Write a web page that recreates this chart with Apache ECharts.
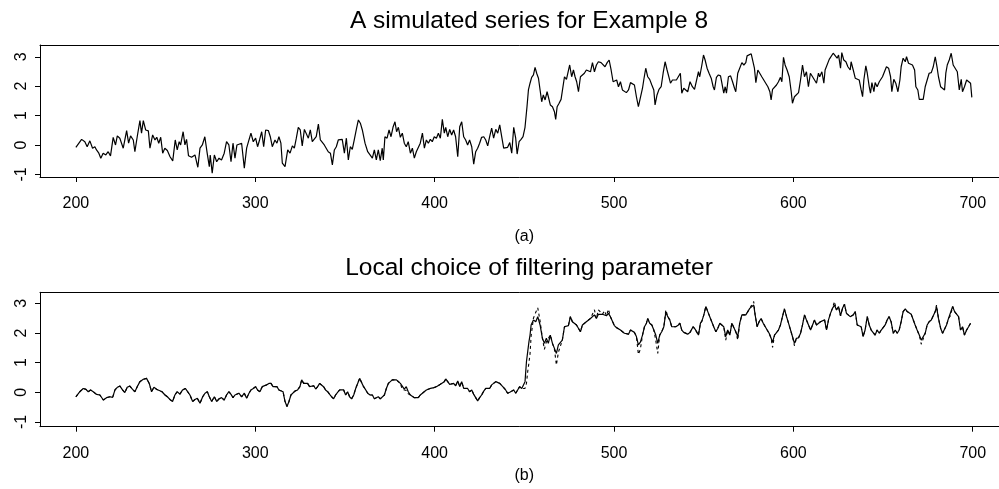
<!DOCTYPE html>
<html>
<head>
<meta charset="utf-8">
<script src="https://cdn.jsdelivr.net/npm/echarts@6/dist/echarts.min.js"></script>
<style>
  html, body { margin: 0; padding: 0; background: #fff; overflow: hidden; }
  #main { width: 999px; height: 489px; }
</style>
</head>
<body>
<div id="main"></div>
<script>
// panel (a): simulated series
const topT = [
  200.0, 203.2, 205.0, 206.3, 207.8, 209.3, 210.6, 211.5, 212.8, 213.9, 215.2, 216.7, 218.0, 219.3, 220.8, 222.1, 223.1, 224.5, 226.4, 228.3,
  229.4, 230.5, 232.0, 232.9, 234.2, 235.7, 236.6, 237.6, 238.9, 240.4, 241.3, 242.8, 244.1, 245.1, 246.2, 247.3, 248.4, 249.6, 251.0, 252.5,
  254.0, 255.4, 256.5, 257.6, 258.4, 259.8, 260.8, 261.7, 262.8, 264.5, 266.4, 268.0, 269.2, 270.5, 271.9, 273.2, 274.4,
  274.9, 276.0, 277.2, 278.5, 279.8, 281.2, 282.7, 284.0, 285.3, 286.5, 287.6, 288.7, 289.8, 290.9, 292.4, 293.9, 295.2, 296.5, 297.6, 298.9,
  300.2, 301.3, 302.4, 303.6, 304.7, 305.8, 307.3, 308.4, 309.5, 311.0, 312.1, 313.2, 314.3, 315.1, 316.6, 318.1, 319.4, 320.7, 321.8, 322.9,
  324.0, 325.1, 326.2, 327.4, 328.5, 329.6, 330.7, 331.8, 332.9, 334.0, 335.2, 336.3, 337.4, 338.5, 339.6, 340.7, 341.9, 343.0, 344.1, 345.2,
  346.3, 347.4, 348.5, 349.7, 350.8, 351.9, 353.0, 354.1, 355.2, 356.5, 357.5, 358.6, 359.7, 361.2, 362.7, 364.0,
  365.3, 366.4, 367.5, 368.6, 369.7, 370.8, 371.4, 372.3, 373.5, 374.6, 375.7, 376.8, 377.9, 378.8, 379.8, 380.9, 382.0, 383.1, 384.2, 385.3,
  386.5, 387.6, 388.7, 389.8, 390.9, 392.0, 393.2, 394.3, 395.4, 396.5, 397.6, 398.7, 399.8, 401.0, 402.1, 403.2, 404.3, 405.4, 406.2, 407.3,
  408.4, 409.5, 410.6, 411.7, 412.9, 414.0, 415.1, 416.2, 417.3, 418.4, 419.5, 420.7, 421.8, 422.9, 424.0, 425.1, 426.2, 427.4, 428.5, 429.6,
  430.7, 431.8, 432.9, 434.1, 435.2, 436.3, 437.4, 438.5, 439.6, 440.7, 441.9, 443.0, 444.1, 445.2, 446.0, 447.1, 448.2, 449.3, 450.4, 451.5,
  452.3, 453.2,
  454.1, 455.1, 456.0, 456.9, 457.9, 458.8, 459.7, 460.6, 461.6, 462.7, 463.4, 464.5, 465.7, 466.8, 467.5, 468.3, 469.4, 470.5, 471.6, 472.4,
  473.5, 474.6, 475.3, 476.4, 477.4, 478.3, 479.2, 480.2, 481.3, 482.4, 483.5, 484.6, 485.7, 486.9, 488.0, 489.1, 490.2, 491.3, 492.8, 493.9,
  495.0, 496.2, 497.3, 498.4, 499.5, 500.6, 501.5, 502.5, 503.6, 504.7, 505.8, 506.9, 508.1, 509.2, 510.3, 511.4, 512.5, 513.6, 514.7, 515.9,
  516.6, 517.7, 518.8, 519.9, 521.1, 522.2, 522.9, 524.0, 525.1, 526.3, 527.4, 528.5, 529.6, 530.7, 531.5, 532.6, 533.7, 534.8, 535.9, 537.0,
  537.8, 538.9, 540.0, 541.1, 542.4,
  543.7, 544.9, 546.0, 547.1, 547.8, 549.0, 549.9, 550.8, 551.9, 553.0, 554.2, 555.3, 556.0, 557.1, 558.2, 559.4, 560.5, 561.2, 562.0, 562.7,
  563.8, 565.0, 566.1, 567.2, 567.9, 569.0, 570.1, 571.3, 572.4, 573.5, 574.2, 575.3, 576.5, 577.6, 578.3, 579.1, 580.2, 581.3, 582.4, 583.5,
  584.6, 585.8, 586.9, 587.6, 588.4, 589.5, 590.6, 591.7, 592.8, 593.6, 594.5, 595.4, 596.5, 597.7, 598.8, 599.5, 600.6, 601.7, 602.9, 604.0,
  605.1, 606.2, 607.3, 608.4, 609.5, 610.7, 611.8, 612.9, 614.0, 614.7, 615.9, 617.0, 617.7, 618.8, 620.0, 621.1, 622.2, 623.3, 624.4, 625.2,
  626.3, 627.0, 628.1, 629.3, 630.4, 631.7,
  632.2, 633.4, 634.5, 635.6, 636.7, 637.8, 638.6, 639.3, 640.4, 641.2, 642.3, 643.0, 643.8, 644.9, 645.6, 646.7, 647.9, 648.6, 649.7, 650.8,
  651.9, 653.1, 654.2, 654.9, 656.0, 657.1, 658.3, 659.4, 660.1, 661.2, 662.4, 663.1, 664.2, 665.3, 666.4, 667.6, 668.3, 669.4, 670.2, 671.3,
  672.4, 673.5, 674.6, 675.7, 676.9, 678.0, 679.1, 680.2, 680.9, 682.1, 683.2, 684.3, 685.0, 685.8, 686.9, 688.0, 689.1, 690.2, 691.4, 692.5,
  693.6, 694.3, 695.4, 696.6, 697.7, 698.8, 699.5
];
const topV = [
  -0.08, 0.19, 0.11, -0.06, 0.14, -0.11, -0.06, -0.17, -0.28, -0.45, -0.28, -0.34, -0.23, -0.37, 0.26, 0.00, 0.31, 0.23, -0.11, 0.49,
  0.06, 0.31, 0.17, -0.23, 0.28, 0.83, 0.40, 0.83, 0.51, 0.48, -0.11, 0.34, 0.17, 0.26, 0.06, 0.26, -0.28, -0.11, -0.19, -0.40,
  -0.54, 0.17, -0.17, 0.11, 0.00, 0.45, 0.00, 0.19, -0.37, -0.42, -0.34, -0.76, -0.11, 0.00, 0.28, -0.28, -0.74,
  -0.34, -0.96, -0.34, -0.57, -0.45, -0.51, -0.28, 0.11, 0.00, -0.57, 0.06, -0.45, 0.00, -0.06, 0.06, -0.79, -0.11, 0.17, 0.40, 0.11,
  0.23, -0.06, 0.17, 0.45, -0.06, 0.51, 0.49, 0.28, -0.06, 0.17, 0.06, 0.28, 0.06, -0.62, -0.74, -0.17, -0.28, -0.03, -0.11, 0.23,
  0.60, 0.51, -0.03, 0.53, 0.57, 0.23, 0.51, 0.11, 0.06, 0.28, 0.71, 0.17, 0.17, 0.00, -0.06, -0.23, -0.28, -0.68, -0.17, -0.06,
  0.17, 0.23, 0.19, -0.28, 0.23, -0.51, -0.06, -0.15, 0.17, 0.57, 0.85, 0.74, 0.51, 0.06, -0.23, -0.34,
  -0.45, -0.17, -0.51, -0.17, -0.53, -0.11, -0.51, 0.28, 0.23, 0.51, 0.28, 0.60, 0.79, 0.45, 0.60, 0.26, 0.40, 0.06, -0.06, 0.11,
  -0.28, -0.11, -0.45, -0.23, -0.28, 0.06, 0.40, -0.11, 0.17, 0.06, 0.19, 0.11, 0.28, 0.23, 0.40, 0.23, 0.87, 0.40, 0.60, 0.28,
  0.53, 0.34, 0.51, 0.28, -0.40, 0.62, 0.79, 0.28, 0.17, 0.00, 0.17, -0.06, -0.65, -0.23, -0.11, 0.06, 0.26, 0.28, 0.17, -0.03,
  0.28, 0.57, 0.23, 0.53, 0.40, 0.68, 0.28, -0.11, -0.06, -0.08, 0.08, -0.28, 0.60, 0.23, -0.31, 0.11, 0.19, 0.28, 0.60, 1.30,
  1.87, 2.10,
  2.30, 2.38, 2.64, 2.44, 2.27, 1.87, 1.47, 1.70, 1.53, 1.81, 1.64, 1.36, 1.30, 1.13, 0.87, 1.30, 1.42, 1.55, 1.59, 2.32,
  2.23, 2.27, 2.72, 2.32, 2.55, 2.32, 2.15, 1.81, 2.32, 2.38, 2.44, 2.55, 2.61, 2.49, 2.80, 2.49, 2.72, 2.83, 2.80, 2.78,
  2.66, 2.80, 2.89, 2.55, 2.15, 2.10, 2.21, 1.98, 2.15, 1.87, 1.81, 1.78, 1.87, 2.12, 2.07, 2.04, 1.64, 1.30, 1.36, 1.93,
  2.21, 2.61, 2.32, 2.23, 2.04, 1.87, 1.36, 1.70, 1.89, 1.98, 2.44, 2.83, 2.55, 2.61, 2.10, 2.21, 2.15, 2.21, 2.23, 2.44,
  1.76, 1.93, 1.87, 1.81, 2.15,
  1.98, 1.89, 1.93, 2.49, 2.32, 2.72, 3.06, 2.89, 2.61, 2.44, 2.27, 1.98, 1.87, 2.30, 2.38, 2.35, 2.38, 1.76, 1.98, 1.76,
  2.32, 2.35, 2.15, 1.93, 1.81, 2.44, 2.49, 2.80, 2.72, 2.80, 3.03, 3.06, 3.10, 3.14, 2.61, 2.12, 2.55, 2.49, 2.32, 2.21,
  2.10, 1.98, 1.81, 1.53, 1.89, 1.87, 2.04, 2.15, 2.30, 2.15, 2.98, 2.72, 2.55, 2.32, 1.81, 1.42, 1.64, 1.70, 1.78, 2.21,
  2.72, 2.32, 2.49, 1.98, 2.44, 2.32, 2.21, 2.10, 2.44, 2.32, 2.49, 2.10, 2.55, 2.49, 2.91, 2.95, 3.12, 3.06, 2.95, 3.06,
  2.61, 3.14, 2.89, 2.83, 2.66, 2.55,
  2.83, 2.55, 2.27, 2.32, 2.21, 1.87, 1.64, 2.21, 2.69, 2.44, 1.98, 1.76, 2.12, 1.81, 2.12, 1.98, 2.15, 2.10, 2.32, 2.49,
  2.66, 2.61, 2.32, 1.81, 2.23, 2.10, 1.81, 2.21, 2.66, 2.95, 2.83, 3.00, 2.78, 2.83, 2.72, 2.55, 1.98, 1.87, 1.55, 1.55,
  1.55, 1.98, 2.21, 2.44, 2.46, 2.66, 3.00, 2.61, 2.32, 1.98, 1.93, 1.87, 2.44, 2.72, 2.89, 3.12, 2.72, 2.66, 2.49, 1.87,
  2.23, 1.81, 1.98, 2.21, 2.27, 2.10, 1.62
];

// panel (b): two estimates, solid and dashed, on the same time points
const botT = [
  200.0, 202.2, 204.1, 205.6, 206.9, 208.2, 209.7, 211.5, 213.4, 215.3, 217.1, 219.0, 220.5, 221.8, 223.1, 224.6, 226.0, 227.3, 228.6, 230.1,
  231.6, 232.9, 234.2, 235.7, 237.6, 239.4, 240.9, 242.2, 243.5, 245.0, 246.5, 248.0, 249.7, 251.0, 252.4, 253.9, 255.2, 256.5, 258.0, 259.5,
  261.0, 262.3, 263.6, 265.1, 266.4, 267.7, 269.2, 270.7, 272.0, 273.3, 274.4,
  275.7, 277.2, 278.5, 279.8, 281.2, 282.7, 284.0, 285.3, 286.5, 287.6, 288.7, 289.8, 290.9, 292.4, 293.9, 295.2, 296.5, 297.6, 298.9, 300.2,
  301.3, 302.6, 303.9, 305.0, 306.3, 307.6, 308.8, 309.9, 311.0, 312.1, 313.2, 314.3, 315.5, 316.6, 317.7, 318.8, 319.9, 321.0, 322.1, 323.6,
  324.9, 325.9, 327.0, 328.1, 329.2, 330.3, 331.4, 332.6, 333.7, 334.8, 335.9, 337.0, 338.1, 339.2, 340.4, 341.5, 342.6, 343.7, 344.8, 345.9,
  347.1, 348.2, 349.3, 350.4, 351.5, 352.6, 353.7, 354.9, 356.0, 357.1, 358.2, 359.3, 360.4, 361.6, 362.7, 364.0,
  365.3, 366.4, 367.5, 368.6, 369.7, 370.8, 372.0, 373.1, 374.2, 375.3, 376.4, 377.5, 378.7, 379.8, 380.9, 382.0, 383.1, 384.2, 385.3, 386.5,
  387.6, 388.7, 389.8, 390.9, 392.0, 393.2, 394.3, 395.4, 396.5, 397.6, 398.7, 399.8, 401.0, 402.1, 403.2, 404.3, 405.4, 406.2, 407.3, 408.4,
  409.5, 410.6, 411.7, 412.9, 414.0, 415.1, 416.2, 417.3, 418.4, 419.5, 420.7, 421.8, 422.9, 424.0, 425.1, 426.2, 427.4, 428.5, 429.6, 430.7,
  431.8, 432.9, 434.1, 435.2, 436.3, 437.4, 438.5, 439.6, 440.7, 441.9, 443.0, 444.1, 445.2, 446.3, 447.4, 448.6, 449.7, 450.4, 451.2, 451.9,
  452.6, 453.2,
  453.8, 455.1, 456.4, 457.5, 458.8, 460.1, 461.2, 462.3, 463.4, 464.5, 465.7, 466.8, 467.9, 469.0, 470.1, 471.2, 472.4, 473.5, 474.6, 475.7,
  476.8, 477.9, 479.1, 480.2, 481.3, 482.4, 483.5, 484.6, 485.7, 486.9, 488.0, 489.1, 490.2, 491.3, 492.4, 493.6, 494.7, 495.8, 496.9, 498.0,
  499.1, 500.2, 501.4, 502.5, 503.6, 504.7, 505.8, 506.9, 508.1, 509.2, 510.3, 511.4, 512.5, 513.6, 514.7, 515.9, 517.0, 518.1, 518.8, 519.9,
  521.1, 522.2, 523.3, 524.4, 525.5, 526.6, 527.8, 528.9, 530.0, 531.1, 532.2, 533.3, 534.4, 535.6, 536.7, 537.8, 538.9, 540.0, 541.1, 542.4,
  543.0, 544.1, 545.2, 546.3, 547.1, 548.2, 549.0, 550.1, 551.2, 552.3, 553.4, 554.5, 555.6, 556.8, 557.9, 559.0, 560.1, 561.2, 562.3, 563.4,
  564.6, 565.7, 566.8, 567.9, 569.0, 570.1, 571.3, 572.4, 573.5, 574.6, 575.7, 576.8, 577.9, 578.7, 579.8, 580.9, 582.0, 583.2, 584.3, 585.4,
  586.5, 587.6, 588.4, 589.5, 590.6, 591.7, 592.8, 593.9, 595.0, 596.2, 597.3, 598.4, 599.5, 600.6, 601.7, 602.9, 604.0, 605.1, 606.2, 607.3,
  608.4, 609.6, 610.7, 611.8, 612.9, 614.0, 615.1, 616.2, 617.4, 618.5, 619.6, 620.7, 621.8, 622.9, 624.0, 625.2, 626.3, 627.4, 628.5, 629.6,
  630.7, 631.7,
  632.2, 633.4, 634.5, 635.6, 636.7, 637.8, 638.9, 640.0, 641.2, 642.3, 643.4, 644.5, 645.6, 646.7, 647.9, 649.0, 650.1, 651.2, 652.3, 653.4,
  654.5, 655.7, 656.8, 657.9, 659.0, 660.1, 661.2, 662.4, 663.5, 664.6, 665.7, 666.8, 667.9, 669.0, 670.2, 671.3, 672.4, 673.5, 674.6, 675.7,
  676.9, 678.0, 679.1, 679.8, 680.9, 682.1, 683.2, 684.3, 685.4, 686.5, 687.6, 688.8, 689.9, 691.0, 692.1, 693.2, 694.3, 695.4, 696.6, 697.7,
  698.8
];
const botSolid = [
  -0.15, 0.02, 0.13, 0.10, 0.02, 0.08, 0.02, -0.07, -0.09, -0.26, -0.18, -0.15, -0.17, 0.08, 0.17, 0.21, 0.08, -0.01, 0.17, 0.21,
  0.10, 0.02, 0.19, 0.36, 0.44, 0.47, 0.30, 0.02, 0.17, 0.10, 0.06, 0.02, -0.09, -0.15, -0.24, -0.31, -0.09, 0.02, -0.06, 0.08,
  0.13, 0.02, -0.09, -0.31, -0.24, -0.20, -0.37, -0.15, -0.03, 0.02, -0.15,
  -0.31, -0.15, -0.31, -0.22, -0.18, -0.26, -0.09, 0.02, -0.07, -0.18, -0.09, -0.15, -0.03, -0.15, -0.03, -0.20, -0.03, 0.08, 0.13, 0.19,
  0.08, 0.02, 0.19, 0.13, 0.25, 0.30, 0.30, 0.19, 0.13, 0.19, 0.08, 0.11, 0.02, -0.31, -0.48, -0.31, -0.09, -0.07, 0.04, 0.08,
  0.19, 0.42, 0.30, 0.25, 0.30, 0.19, 0.13, 0.22, 0.11, 0.19, 0.30, 0.36, 0.19, 0.08, 0.02, -0.07, -0.15, -0.22, -0.09, 0.00,
  0.08, 0.13, 0.08, -0.09, 0.02, -0.15, -0.22, -0.09, 0.13, 0.30, 0.47, 0.42, 0.19, 0.08, -0.03, -0.09,
  -0.09, -0.22, -0.20, -0.15, -0.22, -0.18, -0.09, 0.13, 0.30, 0.36, 0.42, 0.36, 0.42, 0.38, 0.30, 0.25, 0.11, 0.19, 0.02, -0.09,
  -0.03, -0.18, -0.22, -0.18, -0.09, -0.03, 0.02, 0.08, 0.04, 0.13, 0.11, 0.16, 0.19, 0.22, 0.27, 0.30, 0.36, 0.45, 0.36, 0.27,
  0.25, 0.30, 0.22, 0.38, 0.19, 0.36, 0.13, 0.08, 0.13, 0.02, 0.08, -0.07, -0.18, -0.29, -0.18, -0.09, 0.04, 0.13, 0.19, 0.13,
  0.25, 0.30, 0.36, 0.38, 0.30, 0.25, 0.16, 0.08, -0.03, 0.00, 0.02, 0.08, -0.03, 0.08, 0.19, 0.13, 0.19, 0.36, 1.03, 1.37,
  1.71, 1.93,
  2.27, 2.44, 2.38, 2.55, 2.27, 1.82, 1.65, 1.82, 1.65, 1.93, 1.65, 1.60, 1.31, 1.60, 1.65, 1.76, 2.21, 2.27, 2.25, 2.55,
  2.38, 2.44, 2.27, 2.33, 2.04, 2.27, 2.33, 2.38, 2.44, 2.49, 2.55, 2.61, 2.49, 2.63, 2.66, 2.63, 2.61, 2.58, 2.66, 2.55,
  2.49, 2.25, 2.18, 2.13, 2.10, 2.04, 1.99, 1.93, 1.96, 2.10, 2.07, 2.02, 1.88, 1.60, 1.69, 1.93, 2.21, 2.33, 2.49, 2.33,
  2.27, 2.10, 1.93, 1.65, 1.93, 2.04, 2.21, 2.70, 2.55, 2.44, 2.21, 2.27, 2.21, 2.25, 2.33, 2.10, 2.02, 1.99, 1.96, 2.02,
  2.02, 2.21, 2.13, 2.07, 1.93, 2.33, 2.40, 2.61, 2.89, 2.72, 2.55, 2.38, 2.21, 2.04, 2.16, 2.33, 2.38, 2.21, 1.88, 2.10,
  1.93, 2.33, 2.27, 2.04, 1.88, 2.33, 2.61, 2.66, 2.61, 2.72, 2.83, 2.78, 2.94, 2.61, 2.21, 2.38, 2.49, 2.33, 2.27, 2.10,
  1.99, 1.82, 1.69, 1.93, 1.99, 2.10, 2.27, 2.21, 2.81, 2.55, 2.33, 2.27, 1.88, 1.65, 1.82, 1.84, 1.99, 2.27, 2.61, 2.44,
  2.38, 2.10, 2.27, 2.44, 2.27, 2.21, 2.38, 2.33, 2.44, 2.10, 2.44, 2.66, 2.83, 2.94, 2.78, 2.89, 2.58, 2.83, 2.97, 2.66,
  2.61, 2.55,
  2.49, 2.61, 2.72, 2.27, 2.27, 2.21, 1.88, 2.10, 2.55, 2.27, 2.10, 2.16, 1.93, 2.10, 1.99, 2.10, 2.04, 2.27, 2.44, 2.55,
  2.38, 1.99, 2.10, 1.99, 2.10, 2.38, 2.72, 2.81, 2.72, 2.66, 2.63, 2.61, 2.27, 2.10, 1.93, 1.76, 1.76, 1.99, 2.27, 2.38,
  2.44, 2.49, 2.72, 2.89, 2.49, 2.16, 1.99, 2.04, 2.27, 2.49, 2.44, 2.89, 2.72, 2.66, 2.55, 2.10, 2.21, 1.93, 2.10, 2.21,
  2.33
];
const botDashed = [
  -0.15, 0.02, 0.13, 0.10, 0.02, 0.08, 0.02, -0.07, -0.09, -0.26, -0.18, -0.15, -0.17, 0.08, 0.17, 0.21, 0.08, -0.01, 0.17, 0.21,
  0.10, 0.02, 0.19, 0.36, 0.44, 0.47, 0.30, 0.02, 0.17, 0.10, 0.06, 0.02, -0.09, -0.15, -0.24, -0.31, -0.09, 0.02, -0.06, 0.08,
  0.13, 0.02, -0.09, -0.31, -0.24, -0.20, -0.37, -0.15, -0.03, 0.02, -0.15,
  -0.31, -0.15, -0.31, -0.22, -0.18, -0.26, -0.09, 0.02, -0.07, -0.18, -0.09, -0.15, -0.03, -0.15, -0.03, -0.20, -0.03, 0.08, 0.13, 0.19,
  0.08, 0.02, 0.19, 0.13, 0.25, 0.30, 0.30, 0.19, 0.13, 0.19, 0.08, 0.11, 0.02, -0.31, -0.48, -0.31, -0.09, -0.07, 0.04, 0.08,
  0.19, 0.42, 0.30, 0.25, 0.30, 0.19, 0.13, 0.22, 0.11, 0.19, 0.30, 0.36, 0.19, 0.08, 0.02, -0.07, -0.15, -0.22, -0.09, 0.00,
  0.08, 0.13, 0.08, -0.09, 0.02, -0.15, -0.22, -0.09, 0.13, 0.30, 0.47, 0.42, 0.19, 0.08, -0.03, -0.09,
  -0.09, -0.22, -0.20, -0.15, -0.22, -0.18, -0.09, 0.13, 0.30, 0.36, 0.42, 0.36, 0.42, 0.38, 0.30, 0.10, 0.05, 0.06, -0.05, -0.09,
  -0.03, -0.18, -0.22, -0.18, -0.09, -0.03, 0.02, 0.08, 0.04, 0.13, 0.11, 0.16, 0.19, 0.22, 0.27, 0.30, 0.36, 0.45, 0.36, 0.27,
  0.25, 0.30, 0.22, 0.38, 0.19, 0.36, 0.13, 0.08, 0.13, 0.02, 0.08, -0.07, -0.18, -0.29, -0.18, -0.09, 0.04, 0.13, 0.19, 0.13,
  0.25, 0.30, 0.36, 0.38, 0.30, 0.25, 0.16, 0.08, -0.03, 0.00, 0.02, 0.08, -0.03, 0.08, 0.19, 0.13, 0.19, 0.13, 0.30, 0.70,
  1.00, 1.30,
  1.90, 2.50, 2.70, 2.85, 2.40, 1.82, 1.45, 1.70, 1.65, 1.93, 1.65, 1.45, 0.92, 1.35, 1.55, 1.76, 2.21, 2.27, 2.25, 2.55,
  2.38, 2.44, 2.27, 2.33, 2.04, 2.27, 2.33, 2.38, 2.44, 2.49, 2.55, 2.78, 2.49, 2.78, 2.75, 2.63, 2.75, 2.58, 2.80, 2.55,
  2.49, 2.25, 2.18, 2.13, 2.10, 2.04, 1.99, 1.93, 1.96, 2.10, 2.07, 2.02, 1.88, 1.28, 1.45, 1.93, 2.21, 2.33, 2.49, 2.33,
  2.27, 2.10, 1.75, 1.31, 1.93, 2.04, 2.21, 2.78, 2.55, 2.44, 2.21, 2.27, 2.21, 2.25, 2.33, 2.10, 2.02, 1.99, 1.96, 2.02,
  2.02, 2.21, 2.13, 2.07, 1.93, 2.33, 2.40, 2.61, 2.89, 2.72, 2.55, 2.38, 2.21, 2.04, 2.16, 2.33, 2.38, 2.21, 1.76, 2.10,
  1.93, 2.33, 2.27, 2.04, 1.76, 2.33, 2.61, 2.66, 2.61, 2.72, 2.83, 2.78, 3.06, 2.61, 2.21, 2.38, 2.49, 2.33, 2.27, 2.10,
  1.99, 1.82, 1.51, 1.93, 1.99, 2.10, 2.27, 2.21, 2.81, 2.55, 2.33, 2.27, 1.88, 1.57, 1.82, 1.84, 1.99, 2.27, 2.61, 2.44,
  2.38, 2.10, 2.27, 2.44, 2.27, 2.21, 2.38, 2.33, 2.44, 2.10, 2.44, 2.66, 2.83, 3.06, 2.78, 2.89, 2.58, 2.83, 2.97, 2.66,
  2.61, 2.55,
  2.49, 2.61, 2.72, 2.27, 2.27, 2.21, 1.88, 2.10, 2.55, 2.27, 2.10, 2.16, 1.93, 2.10, 1.99, 2.10, 2.04, 2.27, 2.44, 2.55,
  2.38, 1.99, 2.10, 1.99, 2.10, 2.38, 2.72, 2.81, 2.72, 2.66, 2.63, 2.61, 2.27, 2.10, 1.93, 1.62, 1.62, 1.99, 2.27, 2.38,
  2.44, 2.49, 2.72, 2.94, 2.49, 2.16, 1.99, 2.04, 2.27, 2.49, 2.58, 2.89, 2.72, 2.66, 2.55, 2.10, 2.21, 1.93, 2.10, 2.21,
  2.33
];

const xTicks = [200, 300, 400, 500, 600, 700];
const yTicks = [-1, 0, 1, 2, 3];

function pairs(xs, ys) {
  const n = Math.min(xs.length, ys.length);
  const out = [];
  for (let i = 0; i < n; i++) out.push([xs[i], ys[i]]);
  return out;
}

const FONT = '"Liberation Sans", Arial, sans-serif';

function xAxisFor(idx, label, gap) {
  return {
    gridIndex: idx, type: 'value', min: 180, max: 720, position: 'bottom',
    axisLine: { show: true, onZero: false, lineStyle: { color: '#000' } },
    axisTick: { show: true, length: 5, customValues: xTicks },
    axisLabel: { customValues: xTicks, color: '#000', fontSize: 16, fontFamily: FONT, margin: 19 },
    splitLine: { show: false },
    name: label, nameLocation: 'middle', nameGap: gap,
    nameTextStyle: { color: '#000', fontSize: 16, fontFamily: FONT }
  };
}

// top edge of the box
function xTopFor(idx) {
  return {
    gridIndex: idx, type: 'value', min: 180, max: 720, position: 'top',
    axisLine: { show: true, onZero: false, lineStyle: { color: '#000' } },
    axisTick: { show: false }, axisLabel: { show: false }, splitLine: { show: false }
  };
}

function yAxisFor(idx, lo, hi) {
  return {
    gridIndex: idx, type: 'value', min: lo, max: hi,
    axisLine: { show: true, onZero: false, lineStyle: { color: '#000' } },
    axisTick: { show: true, length: 5, customValues: yTicks },
    axisLabel: { customValues: yTicks, color: '#000', fontSize: 16, fontFamily: FONT, rotate: 90, margin: 10 },
    splitLine: { show: false }
  };
}

const chart = echarts.init(document.getElementById('main'));
chart.setOption({
  animation: false,
  title: [
    {
      text: 'A simulated series for Example 8',
      left: 524, top: 4, textAlign: 'center',
      textStyle: { color: '#000', fontSize: 24.5, fontWeight: 'normal', fontFamily: FONT }
    },
    {
      text: 'Local choice of filtering parameter',
      left: 524, top: 251, textAlign: 'center',
      textStyle: { color: '#000', fontSize: 24.5, fontWeight: 'normal', fontFamily: FONT }
    }
  ],
  grid: [
    { left: 40, top: 45, width: 968.6, height: 132, outerBoundsMode: 'none' },
    { left: 40, top: 292.3, width: 968.6, height: 134.4, outerBoundsMode: 'none' }
  ],
  xAxis: [xAxisFor(0, '(a)', 52), xTopFor(0), xAxisFor(1, '(b)', 41), xTopFor(1)],
  yAxis: [yAxisFor(0, -1.09, 3.40), yAxisFor(1, -1.159, 3.371)],
  series: [
    {
      type: 'line', xAxisIndex: 0, yAxisIndex: 0, data: pairs(topT, topV),
      showSymbol: false, lineStyle: { color: '#000', width: 1.2 }
    },
    {
      type: 'line', xAxisIndex: 2, yAxisIndex: 1, data: pairs(botT, botDashed),
      showSymbol: false, lineStyle: { color: '#000', width: 1.1, type: [3, 3] }
    },
    {
      type: 'line', xAxisIndex: 2, yAxisIndex: 1, data: pairs(botT, botSolid),
      showSymbol: false, lineStyle: { color: '#000', width: 1.2 }
    }
  ]
});
</script>
</body>
</html>
